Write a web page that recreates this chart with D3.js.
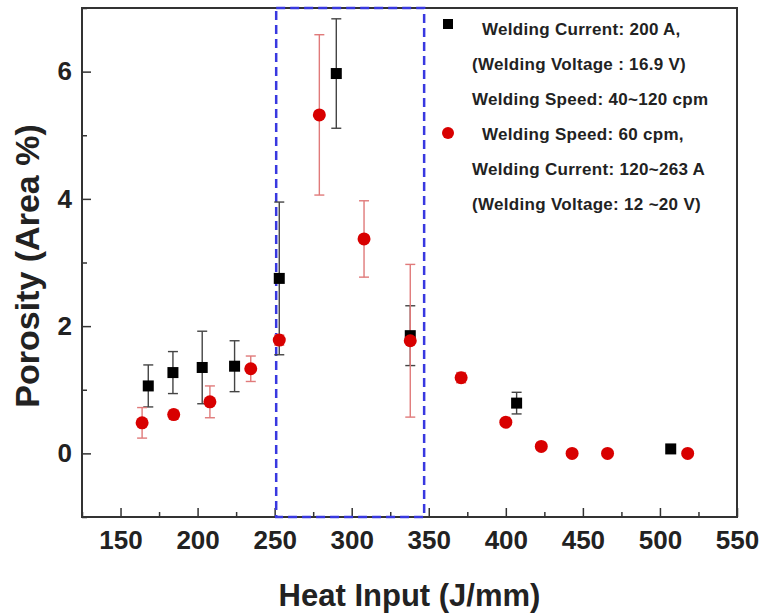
<!DOCTYPE html>
<html>
<head>
<meta charset="utf-8">
<script src="https://cdn.jsdelivr.net/npm/d3@7"></script>
<style>
    body { margin: 0; background: #fff; }
    svg text { font-family: "Liberation Sans", Arial, sans-serif; font-weight: bold; fill: #222; }
</style>
</head>
<body>
<div id="plot"></div>
<script>
// Series 1: welding current fixed at 200 A (black squares)
const currentX = [168, 184, 203, 224, 253, 290, 338, 407, 507];
const currentY = [1.06, 1.27, 1.35, 1.37, 2.75, 5.97, 1.85, 0.79, 0.07];
const currentErr = [0.33, 0.33, 0.57, 0.40, 1.20, 0.86, 0.47, 0.17, 0];

// Series 2: welding speed fixed at 60 cpm (red circles)
const speedX = [164, 184.5, 208, 234.5, 253, 279, 308, 338, 371, 400, 423, 443, 466, 518];
const speedY = [0.48, 0.61, 0.81, 1.33, 1.78, 5.32, 3.37, 1.77, 1.19, 0.49, 0.11, 0, 0, 0];
const speedErr = [0.24, 0.07, 0.25, 0.20, 0.08, 1.26, 0.60, 1.20, 0.08, 0, 0.06, 0, 0, 0];

// Axes ticks
const xTicks = [150, 200, 250, 300, 350, 400, 450, 500, 550];
const xMinorTicks = [125, 175, 225, 275, 325, 375, 425, 475, 525];
const yTicks = [0, 2, 4, 6];
const yMinorTicks = [-1, 1, 3, 5, 7];

// Highlighted region (dashed box)
const boxX = [251, 347];

const legendLines = [
    "Welding Current: 200 A,",
    "(Welding Voltage : 16.9 V)",
    "Welding Speed: 40~120 cpm",
    "Welding Speed: 60 cpm,",
    "Welding Current: 120~263 A",
    "(Welding Voltage: 12 ~20 V)"
];

const width = 763, height = 615;
const margin = {top: 8, right: 26, bottom: 98, left: 82};

const svg = d3.select("#plot").append("svg")
    .attr("width", width)
    .attr("height", height);

const x = d3.scaleLinear().domain([125, 550]).range([margin.left, width - margin.right]);
const y = d3.scaleLinear().domain([-1, 7]).range([height - margin.bottom, margin.top]);

// X axis (ticks pointing inward)
const xAxis = svg.append("g")
    .attr("transform", `translate(0,${y(-1)})`)
    .call(d3.axisBottom(x).tickValues(xTicks).tickSize(-9).tickPadding(14).tickFormat(d3.format("d")));
xAxis.select(".domain").remove();
xAxis.selectAll("line").attr("stroke", "#333").attr("stroke-width", 1.5);
xAxis.selectAll("text").style("font-size", "26px");

svg.append("g")
    .attr("transform", `translate(0,${y(-1)})`)
    .call(d3.axisBottom(x).tickValues(xMinorTicks).tickSize(-5).tickFormat(""))
    .call(g => g.select(".domain").remove())
    .selectAll("line").attr("stroke", "#333").attr("stroke-width", 1.5);

// Y axis
const yAxis = svg.append("g")
    .attr("transform", `translate(${x(125)},0)`)
    .call(d3.axisLeft(y).tickValues(yTicks).tickSize(-9).tickPadding(10));
yAxis.select(".domain").remove();
yAxis.selectAll("line").attr("stroke", "#333").attr("stroke-width", 1.5);
yAxis.selectAll("text").style("font-size", "26px");

svg.append("g")
    .attr("transform", `translate(${x(125)},0)`)
    .call(d3.axisLeft(y).tickValues(yMinorTicks).tickSize(-5).tickFormat(""))
    .call(g => g.select(".domain").remove())
    .selectAll("line").attr("stroke", "#333").attr("stroke-width", 1.5);

// Frame
svg.append("rect")
    .attr("x", x(125))
    .attr("y", y(7))
    .attr("width", x(550) - x(125))
    .attr("height", y(-1) - y(7))
    .attr("fill", "none")
    .attr("stroke", "#333")
    .attr("stroke-width", 2);

// Dashed box
svg.append("rect")
    .attr("x", x(boxX[0]))
    .attr("y", y(7))
    .attr("width", x(boxX[1]) - x(boxX[0]))
    .attr("height", y(-1) - y(7))
    .attr("fill", "none")
    .attr("stroke", "#3838e0")
    .attr("stroke-width", 2.5)
    .attr("stroke-dasharray", "9,5");

// Error bars
function drawErrors(xs, ys, errs, color, width) {
    const g = svg.append("g").attr("stroke", color).attr("stroke-width", width);
    xs.forEach((xv, i) => {
        if (!errs[i]) return;
        const cx = x(xv), top = y(ys[i] + errs[i]), bot = y(ys[i] - errs[i]);
        g.append("line").attr("x1", cx).attr("x2", cx).attr("y1", top).attr("y2", bot);
        g.append("line").attr("x1", cx - 5).attr("x2", cx + 5).attr("y1", top).attr("y2", top);
        g.append("line").attr("x1", cx - 5).attr("x2", cx + 5).attr("y1", bot).attr("y2", bot);
    });
}
drawErrors(currentX, currentY, currentErr, "#444", 1.4);
drawErrors(speedX, speedY, speedErr, "#e07a7a", 1.4);

// Markers
svg.selectAll(".sq")
    .data(currentX)
    .enter()
    .append("rect")
    .attr("x", (d, i) => x(d) - 5.5)
    .attr("y", (d, i) => y(currentY[i]) - 5.5)
    .attr("width", 11)
    .attr("height", 11)
    .attr("fill", "#000");

svg.selectAll(".dot")
    .data(speedX)
    .enter()
    .append("circle")
    .attr("cx", d => x(d))
    .attr("cy", (d, i) => y(speedY[i]))
    .attr("r", 6.5)
    .attr("fill", "#d80000");

// Legend
const legend = svg.append("g");
legend.append("rect").attr("x", 443).attr("y", 19).attr("width", 10).attr("height", 10).attr("fill", "#000");
legend.append("circle").attr("cx", 448).attr("cy", 133).attr("r", 6).attr("fill", "#d80000");
const legendX = [482, 472, 472, 482, 472, 472];
legend.selectAll("text")
    .data(legendLines)
    .enter()
    .append("text")
    .attr("x", (d, i) => legendX[i])
    .attr("y", (d, i) => 35 + i * 35)
    .style("font-size", "17px")
    .style("letter-spacing", "0.3px")
    .attr("fill", "#333")
    .text(d => d);

// Axis titles
svg.append("text")
    .attr("x", (x(125) + x(550)) / 2)
    .attr("y", 606)
    .attr("text-anchor", "middle")
    .style("font-size", "31px")
    .text("Heat Input (J/mm)");

svg.append("text")
    .attr("transform", "translate(39,266) rotate(-90)")
    .attr("text-anchor", "middle")
    .style("font-size", "34px")
    .text("Porosity (Area %)");
</script>
</body>
</html>
